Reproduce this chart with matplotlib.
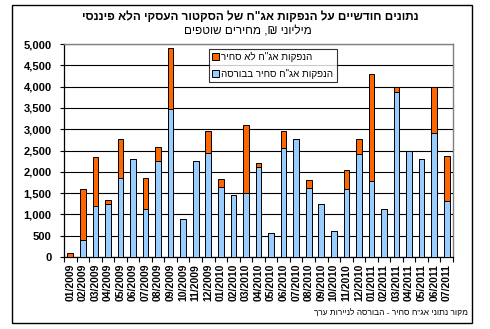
import matplotlib
matplotlib.use("Agg")
import matplotlib.pyplot as plt
from matplotlib.patches import Rectangle
from matplotlib.ticker import FuncFormatter, MultipleLocator, FixedLocator

# monthly bond issues, NIS millions
months = [
  "01/2009", "02/2009", "03/2009", "04/2009", "05/2009", "06/2009",
  "07/2009", "08/2009", "09/2009", "10/2009", "11/2009", "12/2009",
  "01/2010", "02/2010", "03/2010", "04/2010", "05/2010", "06/2010",
  "07/2010", "08/2010", "09/2010", "10/2010", "11/2010", "12/2010",
  "01/2011", "02/2011", "03/2011", "04/2011", "05/2011", "06/2011",
  "07/2011",
]
listed = [
  0, 400, 1200, 1240, 1850, 2290, 1130, 2260, 3470, 890, 2260, 2450,
  1640, 1450, 1500, 2120, 560, 2550, 2760, 1630, 1240, 600, 1590, 2420,
  1780, 1120, 3880, 2500, 2290, 2900, 1310,
]
unlisted = [
  90, 1200, 1150, 100, 910, 0, 720, 330, 1430, 0, 0, 500,
  190, 0, 1590, 90, 0, 400, 0, 170, 0, 0, 460, 340,
  2510, 0, 120, 0, 0, 1100, 1065,
]

title = "נתונים חודשיים על הנפקות אג\"ח של הסקטור העסקי הלא פיננסי"
subtitle = "מיליוני ₪, מחירים שוטפים"
label_unlisted = "הנפקות אג\"ח לא סחיר"
label_listed = "הנפקות אג\"ח סחיר בבורסה"
source = "מקור נתוני אג\"ח סחיר - הבורסה לניירות ערך"

BLUE = "#99ccff"
ORANGE = "#ff6600"

def rtl(s):
  # matplotlib has no bidi support, plain hebrew just needs reversing
  return s[::-1]

def main():
  plt.rcParams["font.family"] = ["Liberation Sans", "DejaVu Sans"]
  fig = plt.figure(figsize=(4.9, 3.29), dpi=100)
  W, H = 490, 329

  # outer chart frame
  fig.patches.append(Rectangle((12 / W, 1 - 323 / H), 460 / W, 318 / H,
                               transform=fig.transFigure, fill=False,
                               edgecolor="black", linewidth=1.0))

  ax = fig.add_axes([64 / W, 1 - 257 / H, 389 / W, 213 / H])
  x = list(range(len(months)))
  ax.bar(x, listed, width=0.45, color=BLUE, edgecolor="black",
         linewidth=0.7, zorder=3, label=rtl(label_listed))
  ax.bar(x, unlisted, width=0.45, bottom=listed, color=ORANGE,
         edgecolor="black", linewidth=0.7, zorder=3,
         label=rtl(label_unlisted))

  ax.set_xlim(-0.5, len(months) - 0.5)
  ax.set_ylim(0, 5000)
  ax.yaxis.set_major_locator(MultipleLocator(500))
  ax.yaxis.set_major_formatter(FuncFormatter(lambda v, p: f"{int(v):,}"))
  ax.grid(axis="y", color="black", linewidth=0.8, zorder=0)

  # ticks at category boundaries, labels at centers
  ax.xaxis.set_major_locator(FixedLocator([i - 0.5 for i in range(len(months) + 1)]))
  ax.xaxis.set_major_formatter(FuncFormatter(lambda v, p: ""))
  ax.xaxis.set_minor_locator(FixedLocator(x))
  ax.set_xticklabels(months, minor=True, rotation=90, fontsize=7.5,
                     fontweight="bold", va="top")
  ax.tick_params(axis="x", which="major", length=3.5, width=0.8, direction="out")
  ax.tick_params(axis="x", which="minor", length=0, pad=5)
  ax.tick_params(axis="y", length=3, width=0.8, pad=6, labelsize=8)
  for t in ax.get_yticklabels():
    t.set_fontweight("bold")

  for side in ("top", "right"):
    ax.spines[side].set_color("#808080")
    ax.spines[side].set_linewidth(1.0)
  for side in ("left", "bottom"):
    ax.spines[side].set_color("black")
    ax.spines[side].set_linewidth(0.9)

  handles, labels = ax.get_legend_handles_labels()
  leg = ax.legend(handles[::-1], labels[::-1], loc="upper left",
                  bbox_to_anchor=(209 / W, 1 - 82 / H, 128 / W, 33 / H),
                  bbox_transform=fig.transFigure, mode="expand",
                  fontsize=7, frameon=True, fancybox=False,
                  handlelength=0.7, handleheight=0.7, handletextpad=0.2,
                  borderpad=0.3, labelspacing=0.7, borderaxespad=0)
  leg.get_frame().set_edgecolor("black")
  leg.get_frame().set_linewidth(0.8)
  leg.set_zorder(5)

  fig.text(250 / W, 1 - 17 / H, rtl(title), ha="center", va="center",
           fontsize=8.5, fontweight="bold")
  fig.text(248 / W, 1 - 32 / H, rtl(subtitle), ha="center", va="center",
           fontsize=8.5)
  fig.text(468 / W, 1 - 313 / H, rtl(source), ha="right", va="center",
           fontsize=6)

  fig.savefig("out.png", dpi=100)

if __name__ == "__main__":
  main()
